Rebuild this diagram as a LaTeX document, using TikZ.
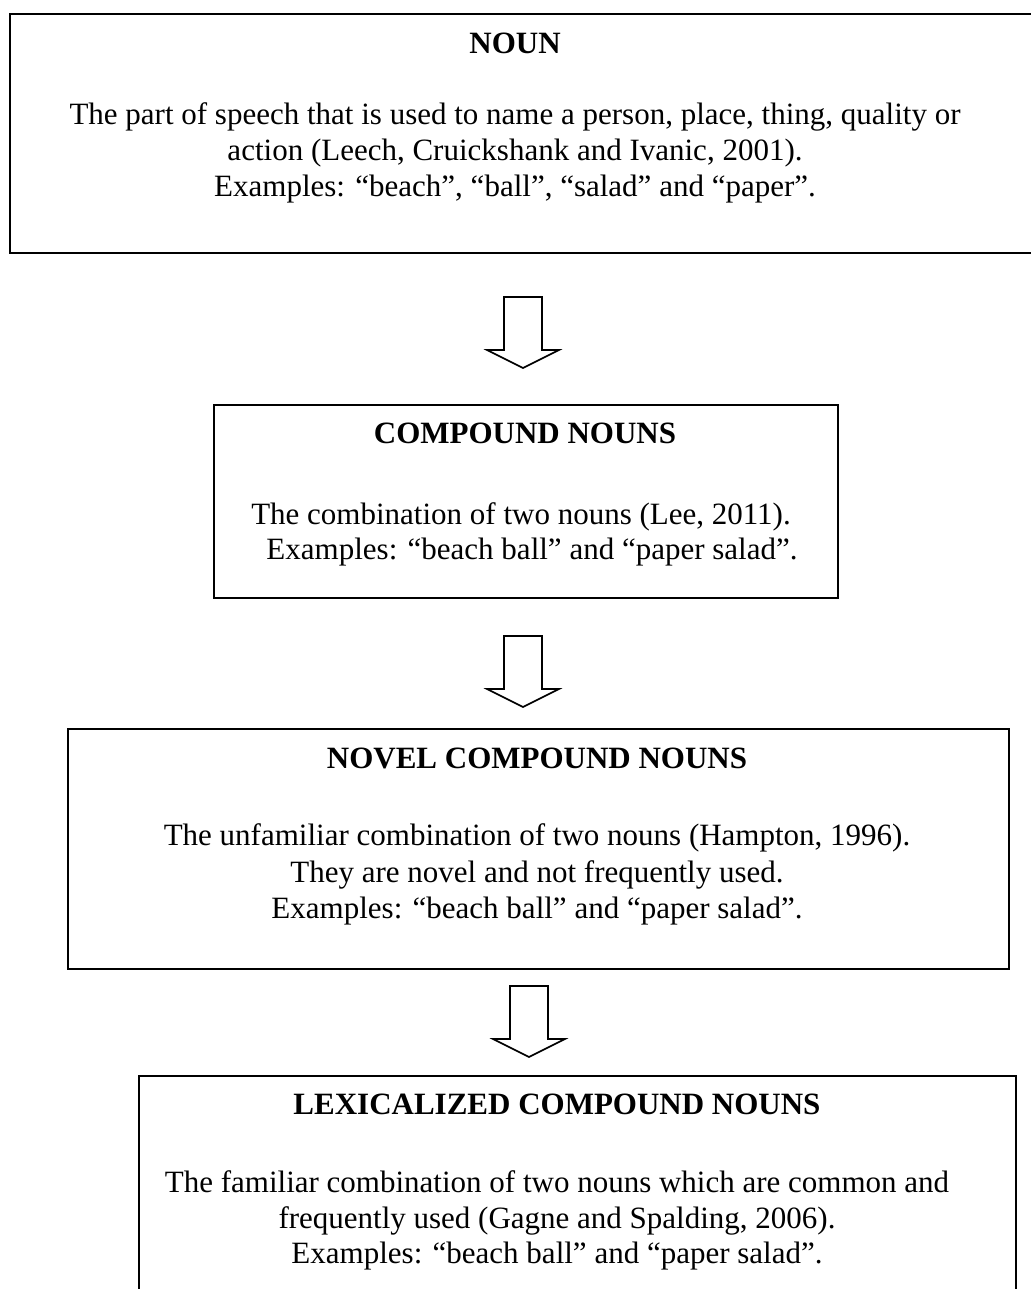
\documentclass[tikz,border=0pt]{standalone}
\usepackage{fontspec}
\setmainfont{Liberation Serif}
\begin{document}
\begin{tikzpicture}[x=1pt,y=-1pt,
  box/.style={draw=black,line width=2pt,rectangle,anchor=north west,inner sep=0pt},
  ttl/.style={anchor=base,font=\fontsize{31}{36}\selectfont\bfseries,inner sep=0pt},
  txt/.style={anchor=base,font=\fontsize{31}{36}\selectfont,inner sep=0pt},
  blockarrow/.style={draw=black,line width=1.6pt,fill=white,line join=miter}]
\useasboundingbox (0,0) rectangle (1030,1289);
% boxes
\node[box,minimum width=1040pt,minimum height=239pt] (b1) at (9,13) {};
\node[box,minimum width=624pt,minimum height=193pt] (b2) at (213,404) {};
\node[box,minimum width=941pt,minimum height=240pt] (b3) at (67,728) {};
\node[box,minimum width=877pt,minimum height=260pt] (b4) at (138,1075) {};
% box 1 text
\node[ttl] (t1) at (515,54) {NOUN};
\node[txt] (l1a) at (515,125) {The part of speech that is used to name a person, place, thing, quality or};
\node[txt] (l1b) at (515,161) {action (Leech, Cruickshank and Ivanic, 2001).};
\node[txt] (l1c) at (515,197) {Examples: “beach”, “ball”, “salad” and “paper”.};
% box 2 text
\node[ttl] (t2) at (525,443) {COMPOUND NOUNS};
\node[txt] (l2a) at (521,524) {The combination of two nouns (Lee, 2011).};
\node[txt] (l2b) at (532,559) {Examples: “beach ball” and “paper salad”.};
% box 3 text
\node[ttl] (t3) at (537,768) {NOVEL COMPOUND NOUNS};
\node[txt] (l3a) at (537,845) {The unfamiliar combination of two nouns (Hampton, 1996).};
\node[txt] (l3b) at (537,882) {They are novel and not frequently used.};
\node[txt] (l3c) at (537,918) {Examples: “beach ball” and “paper salad”.};
% box 4 text
\node[ttl] (t4) at (557,1114) {LEXICALIZED COMPOUND NOUNS};
\node[txt] (l4a) at (557,1192) {The familiar combination of two nouns which are common and};
\node[txt] (l4b) at (557,1228) {frequently used (Gagne and Spalding, 2006).};
\node[txt] (l4c) at (557,1263) {Examples: “beach ball” and “paper salad”.};
% block arrows
\draw[blockarrow] (504,297) -- (542,297) -- (542,350) -- (559,350) -- (523,368) -- (487,350) -- (504,350) -- cycle;
\draw[blockarrow] (504,636) -- (542,636) -- (542,689) -- (559,689) -- (523,707) -- (487,689) -- (504,689) -- cycle;
\draw[blockarrow] (510,986) -- (548,986) -- (548,1039) -- (565,1039) -- (529,1057) -- (493,1039) -- (510,1039) -- cycle;
\end{tikzpicture}
\end{document}
